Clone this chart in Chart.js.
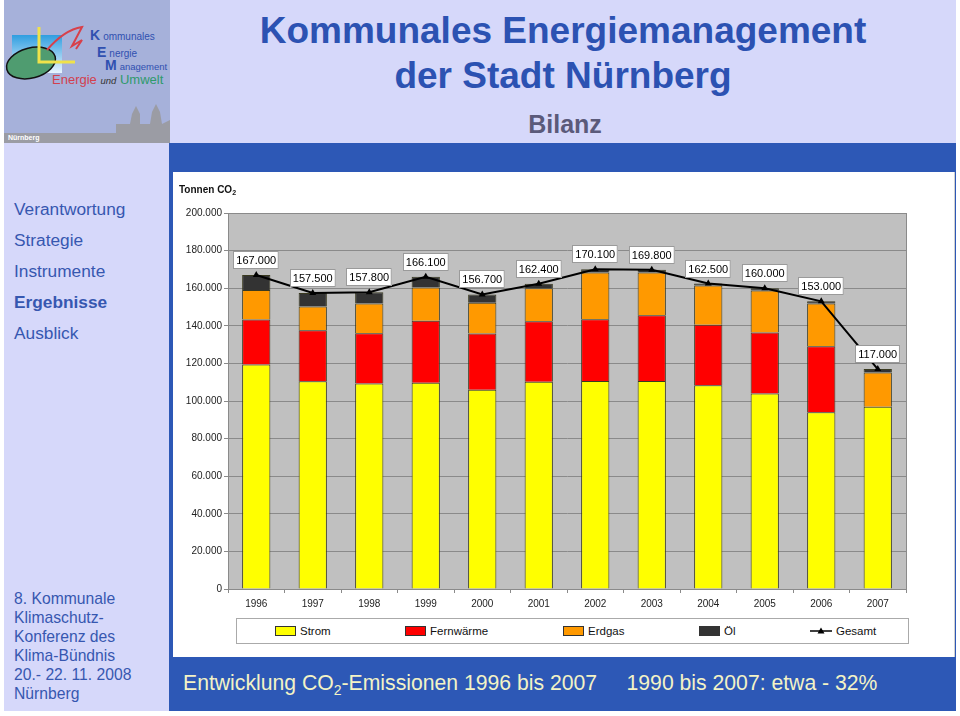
<!DOCTYPE html>
<html lang="de">
<head>
<meta charset="utf-8">
<title>Kommunales Energiemanagement - Bilanz</title>
<script src="https://cdn.jsdelivr.net/npm/chart.js@4.4.1/dist/chart.umd.min.js"></script>
<style>
  html, body { margin: 0; padding: 0; }
  body {
    width: 960px; height: 716px; position: relative; overflow: hidden;
    background: #fff; font-family: Arial, "Liberation Sans", Helvetica, sans-serif;
  }
  .abs { position: absolute; }
  #panel { left: 4px; top: 0; width: 952px; height: 711px; background: #d6d8fa; }
  #logo { left: 4px; top: 0; width: 166px; height: 143px; background: #a6b1da; overflow: hidden; }
  #city { left: 0; top: 133px; width: 166px; height: 10px; background: #9b9ca4; }
  #city span { position: absolute; left: 4px; top: 0; font-size: 7px; line-height: 10px; font-weight: bold; color: #fff; }
  .kem { color: #3050b0; font-size: 10px; line-height: 14px; white-space: nowrap; }
  .kem b { font-size: 14px; margin-right: 3px; }
  #title { left: 170px; width: 786px; top: 8px; text-align: center; color: #2c52b2; font-weight: bold; font-size: 37px; line-height: 45px; }
  #sub { left: 170px; width: 790px; top: 110px; text-align: center; color: #5b5a7a; font-weight: bold; font-size: 25px; line-height: 28px; }
  #nav { left: 14px; top: 194px; color: #3657b0; font-size: 17.3px; line-height: 31px; }
  #conf { left: 14px; top: 589px; color: #3657b0; font-size: 15.7px; line-height: 19px; }
  #frame { left: 169px; top: 143px; width: 787px; height: 568px; background: #2d58b6; }
  #box { left: 173px; top: 172px; width: 782px; height: 485px; background: #fff; border-right: 1px solid #d0d0d0; box-sizing: border-box; }
  #chart { left: 173px; top: 173px; }
  #unit { left: 179px; top: 184px; font-size: 10px; font-weight: bold; color: #111; }
  #unit sub { font-size: 7px; vertical-align: -2px; }
  #legend { left: 236px; top: 618px; width: 673px; height: 26px; border: 1px solid #aaa; box-sizing: border-box; background: #fff; }
  .li { position: absolute; top: 0; height: 24px; font-size: 11.5px; line-height: 24px; color: #111; white-space: nowrap; }
  .sw { display: inline-block; width: 19px; height: 8px; border: 1px solid #333; vertical-align: -1px; margin-right: 4px; }
  #foot { left: 183px; top: 670px; color: #f3f3c6; font-size: 21.2px; line-height: 26px; white-space: pre; }
  #foot sub { font-size: 14px; vertical-align: -5px; }
</style>
</head>
<body>
<div id="panel" class="abs"></div>

<div id="logo" class="abs">
  <svg class="abs" style="left:0;top:0" width="166" height="133">
    <defs>
      <linearGradient id="sky" x1="0" y1="0" x2="0" y2="1">
        <stop offset="0" stop-color="#2f9ee0"/>
        <stop offset="1" stop-color="#e8f4ff"/>
      </linearGradient>
    </defs>
    <rect x="8" y="35" width="50" height="38" fill="url(#sky)"/>
    <ellipse cx="27" cy="63" rx="25" ry="15" transform="rotate(-15 27 63)" fill="#4f9c70" stroke="#111" stroke-width="1.5"/>
    <path d="M35 27 L35 62 L71 62" fill="none" stroke="#f0e24a" stroke-width="3"/>
    <path d="M43 50 Q60 30 78 27 L68 46 L78 40 L72 49" fill="none" stroke="#d8404a" stroke-width="2"/>
    <path d="M112 133 L112 124 L126 124 L128 114 L132 106 L136 114 L136 124 L146 124 L148 112 L152 104 L156 112 L158 124 L166 120 L166 133 Z" fill="#9b9ca4"/>
  </svg>
  <div class="abs kem" style="left:86px;top:28px"><b>K</b>ommunales</div>
  <div class="abs kem" style="left:93px;top:45px"><b>E</b>nergie</div>
  <div class="abs kem" style="left:101px;top:58px;font-size:9.5px"><b>M</b>anagement</div>
  <div class="abs" style="left:48px;top:72px;font-size:13px;white-space:nowrap">
    <span style="color:#d2404e">Energie</span> <i style="font-size:9.5px;color:#333">und</i> <span style="color:#2f9a6c">Umwelt</span>
  </div>
  <div id="city" class="abs"><span>Nürnberg</span></div>
</div>

<div id="title" class="abs">Kommunales Energiemanagement<br>der Stadt Nürnberg</div>
<div id="sub" class="abs">Bilanz</div>

<div id="nav" class="abs">
  Verantwortung<br>Strategie<br>Instrumente<br><b>Ergebnisse</b><br>Ausblick
</div>
<div id="conf" class="abs">
  8. Kommunale<br>Klimaschutz-<br>Konferenz des<br>Klima-Bündnis<br>20.- 22. 11. 2008<br>Nürnberg
</div>

<div id="frame" class="abs"></div>
<div id="box" class="abs"></div>
<canvas id="chart" class="abs" width="782" height="440"></canvas>
<div id="unit" class="abs">Tonnen CO<sub>2</sub></div>
<div id="legend" class="abs"></div>
<div id="foot" class="abs">Entwicklung CO<sub>2</sub>-Emissionen 1996 bis 2007     1990 bis 2007: etwa - 32%</div>

<script>
// Jahre
const years = ['1996', '1997', '1998', '1999', '2000', '2001', '2002', '2003', '2004', '2005', '2006', '2007'];

// Tonnen CO2 je Energieträger
const strom      = [119400, 110500, 109300, 109700, 106000, 110200, 110600, 110600, 108400, 104000, 94000, 96900];
const fernwaerme = [24000, 27100, 26700, 33000, 29900, 32200, 32900, 35000, 32200, 32400, 35100, 0];
const erdgas     = [15600, 12600, 15900, 17700, 16400, 17600, 24900, 22800, 20900, 22400, 22700, 18300];
const oel        = [8000, 7300, 5900, 5700, 4400, 2400, 1700, 1400, 1000, 1200, 1200, 1800];
const gesamt     = [167000, 157500, 157800, 166100, 156700, 162400, 170100, 169800, 162500, 160000, 153000, 117000];

const yTicks = { min: 0, max: 200000, step: 20000 };

const fmt = v => String(Math.round(v)).replace(/\B(?=(\d{3})+(?!\d))/g, '.');
const FONT = 'Arial, "Liberation Sans", sans-serif';

// grey plot area with frame
const plotBg = {
  id: 'plotBg',
  beforeDraw(chart) {
    const { ctx, chartArea: a } = chart;
    ctx.save();
    ctx.fillStyle = '#c0c0c0';
    ctx.fillRect(a.left, a.top, a.right - a.left, a.bottom - a.top);
    ctx.restore();
  },
  afterDraw(chart) {
    const { ctx, chartArea: a } = chart;
    ctx.save();
    ctx.strokeStyle = '#8a8a8a';
    ctx.lineWidth = 1;
    ctx.strokeRect(Math.round(a.left) + 0.5, Math.round(a.top) + 0.5, Math.round(a.right - a.left), Math.round(a.bottom - a.top));
    ctx.restore();
  }
};

// white value boxes above the Gesamt points
const totalLabels = {
  id: 'totalLabels',
  afterDatasetsDraw(chart) {
    const ctx = chart.ctx;
    const idx = chart.data.datasets.findIndex(d => d.type === 'line');
    const meta = chart.getDatasetMeta(idx);
    ctx.save();
    ctx.font = '11px ' + FONT;
    ctx.textAlign = 'center';
    ctx.textBaseline = 'middle';
    meta.data.forEach((pt, i) => {
      const txt = fmt(chart.data.datasets[idx].data[i]);
      const w = ctx.measureText(txt).width + 6;
      const h = 18;
      const x = Math.round(pt.x - w / 2);
      const y = Math.round(pt.y - 6 - h);
      ctx.fillStyle = '#fff';
      ctx.fillRect(x, y, w, h);
      ctx.strokeStyle = '#9a9a9a';
      ctx.lineWidth = 1;
      ctx.strokeRect(x + 0.5, y + 0.5, w - 1, h - 1);
      ctx.fillStyle = '#000';
      ctx.fillText(txt, pt.x, y + h / 2 + 1);
    });
    ctx.restore();
  }
};

const barStyle = { borderColor: '#3a3a20', borderWidth: 1, barPercentage: 0.5, categoryPercentage: 1, order: 1 };

const chart = new Chart(document.getElementById('chart'), {
  type: 'bar',
  data: {
    labels: years,
    datasets: [
      { label: 'Strom', data: strom, backgroundColor: '#ffff00', ...barStyle },
      { label: 'Fernwärme', data: fernwaerme, backgroundColor: '#ff0000', ...barStyle },
      { label: 'Erdgas', data: erdgas, backgroundColor: '#ff9900', ...barStyle },
      { label: 'Öl', data: oel, backgroundColor: '#333333', ...barStyle },
      {
        type: 'line', label: 'Gesamt', data: gesamt, order: 0,
        borderColor: '#000', borderWidth: 2, backgroundColor: '#000',
        pointStyle: 'triangle', pointRadius: 4, pointBackgroundColor: '#000', pointBorderWidth: 0
      }
    ]
  },
  options: {
    responsive: false,
    animation: false,
    layout: { padding: { left: 0, right: 49, top: 40, bottom: 2 } },
    plugins: { legend: { display: false }, tooltip: { enabled: false } },
    scales: {
      x: {
        stacked: true,
        grid: { display: true, drawOnChartArea: false, tickLength: 4, color: '#8a8a8a' },
        border: { color: '#8a8a8a' },
        ticks: { font: { family: FONT, size: 10 }, color: '#222', padding: 5, maxRotation: 0 },
        afterFit(s) { s.height = 22; }
      },
      y: {
        stacked: true,
        min: yTicks.min, max: yTicks.max,
        grid: { color: '#8a8a8a', tickLength: 4 },
        border: { color: '#8a8a8a' },
        ticks: { stepSize: yTicks.step, font: { family: FONT, size: 10 }, color: '#222', padding: 2, callback: v => fmt(v) },
        afterFit(s) { s.width = 55; }
      }
    }
  },
  plugins: [plotBg, totalLabels]
});

// legend built from the chart's own datasets
const legendLeft = [38, 168, 326, 462, 573];
const legend = document.getElementById('legend');
chart.data.datasets.forEach((ds, i) => {
  const item = document.createElement('div');
  item.className = 'li';
  item.style.left = legendLeft[i] + 'px';
  if (ds.type === 'line') {
    item.innerHTML = '<svg width="22" height="10" style="vertical-align:-1px;margin-right:4px">' +
      '<line x1="0" y1="5" x2="22" y2="5" stroke="#000" stroke-width="1.5"/>' +
      '<path d="M11 1.5 L14.5 7.5 L7.5 7.5 Z" fill="#000"/></svg>' + ds.label;
  } else {
    item.innerHTML = '<span class="sw" style="background:' + ds.backgroundColor + '"></span>' + ds.label;
  }
  legend.appendChild(item);
});
</script>
</body>
</html>
